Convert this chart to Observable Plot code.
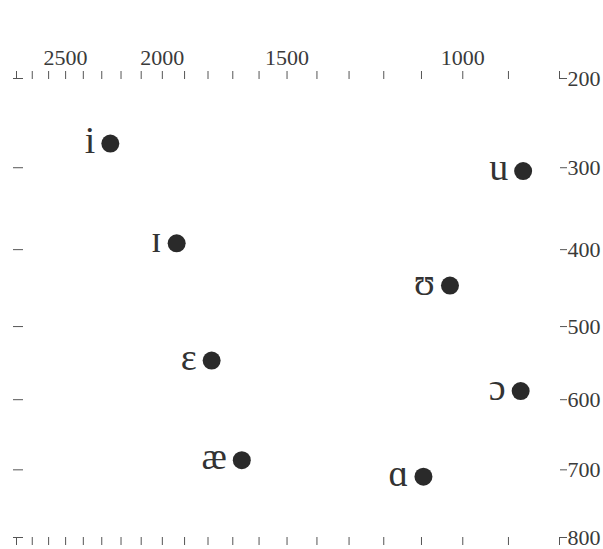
<!DOCTYPE html>
<html><head><meta charset="utf-8">
<script src="https://cdn.jsdelivr.net/npm/d3@7"></script>
<script src="https://cdn.jsdelivr.net/npm/@observablehq/plot@0.6"></script>
<style>html,body{margin:0;padding:0;background:#fff}</style>
</head><body><div id="chart"></div>
<script>
// Vowel formant data (F2 on top axis, reversed log; F1 on right axis, downward)
const vowels = ["i", "ɪ", "ɛ", "æ", "u", "ʊ", "ɔ", "ɑ"];
const f2 = [2255, 1935, 1785, 1665, 870, 1030, 875, 1095];
const f1 = [272, 392, 546, 686, 304, 446, 588, 710];

// Axis ticks
const f2Ticks = [800, 900, 1000, 1100, 1200, 1300, 1400, 1500, 1600, 1700, 1800, 1900, 2000,
                 2100, 2200, 2300, 2400, 2500, 2600, 2700, 2800];
const f2Labels = [1000, 1500, 2000, 2500];
const f1Ticks = [200, 300, 400, 500, 600, 700, 800];

const data = vowels.map((v, i) => ({v, f2: f2[i], f1: f1[i]}));
const serif = "'Liberation Serif', 'DejaVu Serif', serif";

const chart = Plot.plot({
  width: 603,
  height: 549,
  marginTop: 78,
  marginBottom: 12,
  marginLeft: 16,
  marginRight: 44,
  style: {background: "#fff", color: "#3a3a3a", fontFamily: serif},
  x: {type: "log", domain: [2800, 800]},
  y: {type: "pow", exponent: 0.75, domain: [200, 800], reverse: true},
  marks: [
    Plot.axisX(f2Ticks, {anchor: "top", tickSize: 8, tickPadding: 6, fontSize: 22, fontFamily: serif,
      stroke: "#555", tickFormat: d => f2Labels.includes(d) ? String(d) : "", label: null}),
    Plot.axisX(f2Ticks, {anchor: "bottom", tickSize: 8, stroke: "#555", tickFormat: () => "", label: null}),
    Plot.axisY(f1Ticks, {anchor: "right", tickSize: 7, tickPadding: 1, fontSize: 22, fontFamily: serif,
      stroke: "#555", tickFormat: d => String(d), label: null}),
    Plot.axisY(f1Ticks, {anchor: "left", tickSize: 10, dx: 7, stroke: "#555", tickFormat: () => "", label: null}),
    Plot.dot(data, {x: "f2", y: "f1", r: 9, fill: "#2a2a2a", stroke: "none"}),
    Plot.text(data, {x: "f2", y: "f1", text: "v", textAnchor: "end", dx: -15, dy: -3,
      fontSize: 38, fill: "#333", fontFamily: serif})
  ]
});
document.getElementById("chart").appendChild(chart);
</script>
</body></html>
